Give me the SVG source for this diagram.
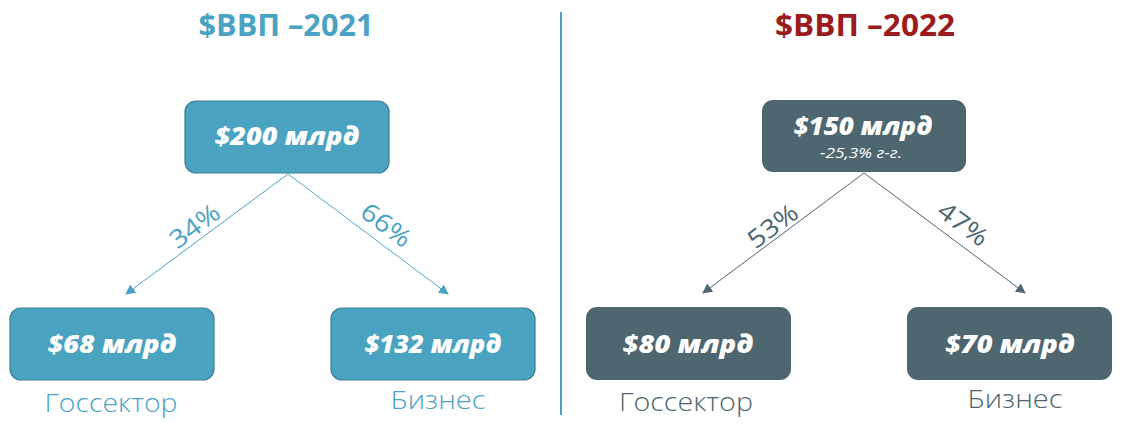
<svg xmlns="http://www.w3.org/2000/svg" width="1122" height="441" viewBox="0 0 1122 441">
<style>
.title{font-family:"Open Sans","Liberation Sans",sans-serif;font-weight:700;font-size:30px;text-anchor:middle}
.val{font-family:"Open Sans","Liberation Sans",sans-serif;font-weight:800;font-style:italic;font-size:24px;fill:#ffffff;text-anchor:middle}
.sub{font-family:"Open Sans","Liberation Sans",sans-serif;font-style:italic;font-weight:400;font-size:15px;fill:#ffffff;text-anchor:middle}
.lbl{font-family:"Open Sans","Liberation Sans",sans-serif;font-weight:300;font-size:25px;text-anchor:middle}
.pct{font-family:"Open Sans","Liberation Sans",sans-serif;font-weight:400;font-size:25px;text-anchor:middle}
.blue{fill:#4BA3C3}
.slate{fill:#4E6670}
.red{fill:#9B1C1F}
.bbox{fill:#4BA3C2;stroke:#3B7F98;stroke-width:1.2}
.sbox{fill:#4E6670}
</style>
<defs>
<marker id="ab" viewBox="0 0 10 10" refX="9" refY="5" markerWidth="10" markerHeight="10" markerUnits="userSpaceOnUse" orient="auto">
<path d="M0,0 L10,5 L0,10 Z" fill="#4BA3C3"/>
</marker>
<marker id="as" viewBox="0 0 10 10" refX="9" refY="5" markerWidth="10" markerHeight="10" markerUnits="userSpaceOnUse" orient="auto">
<path d="M0,0 L10,5 L0,10 Z" fill="#4E6670"/>
</marker>
</defs>
<rect width="1122" height="441" fill="#ffffff"/>
<text class="title blue" x="286" y="36" textLength="175" lengthAdjust="spacingAndGlyphs">$ВВП –2021</text>
<text class="title red" x="865" y="36" textLength="180" lengthAdjust="spacingAndGlyphs">$ВВП –2022</text>
<line x1="561" y1="12" x2="561" y2="415" stroke="#4BA3C3" stroke-width="2"/>
<g id="connectors">
<line x1="288" y1="174" x2="126" y2="294" stroke="#4BA3C3" stroke-width="1" marker-end="url(#ab)"/>
<line x1="288" y1="174" x2="448" y2="294" stroke="#4BA3C3" stroke-width="1" marker-end="url(#ab)"/>
<line x1="864" y1="173" x2="703" y2="293" stroke="#4E6670" stroke-width="1" marker-end="url(#as)"/>
<line x1="864" y1="173" x2="1025" y2="293" stroke="#4E6670" stroke-width="1" marker-end="url(#as)"/>
<text class="pct blue" transform="translate(200,233) rotate(-36.5)" textLength="56" lengthAdjust="spacingAndGlyphs">34%</text>
<text class="pct blue" transform="translate(381,232) rotate(36.5)" textLength="56" lengthAdjust="spacingAndGlyphs">66%</text>
<text class="pct slate" transform="translate(778,233) rotate(-36.5)" textLength="56" lengthAdjust="spacingAndGlyphs">53%</text>
<text class="pct slate" transform="translate(958,231) rotate(36.5)" textLength="56" lengthAdjust="spacingAndGlyphs">47%</text>
</g>
<g id="n2021">
<rect class="bbox" x="185" y="101" width="204" height="72" rx="11"/>
<text class="val" x="287" y="145" textLength="145" lengthAdjust="spacingAndGlyphs">$200 млрд</text>
</g>
<g id="g2021">
<rect class="bbox" x="10" y="308" width="204" height="72" rx="11"/>
<text class="val" x="112" y="353" textLength="129" lengthAdjust="spacingAndGlyphs">$68 млрд</text>
<text class="lbl blue" x="111" y="412" textLength="133" lengthAdjust="spacingAndGlyphs">Госсектор</text>
</g>
<g id="b2021">
<rect class="bbox" x="331" y="308" width="204" height="72" rx="11"/>
<text class="val" x="433" y="353" textLength="137" lengthAdjust="spacingAndGlyphs">$132 млрд</text>
<text class="lbl blue" x="438" y="409" textLength="95" lengthAdjust="spacingAndGlyphs">Бизнес</text>
</g>
<g id="n2022">
<rect class="sbox" x="762" y="100" width="204" height="72" rx="11"/>
<text class="val" x="863" y="135" textLength="139" lengthAdjust="spacingAndGlyphs">$150 млрд</text>
<text class="sub" x="861" y="158" textLength="82" lengthAdjust="spacingAndGlyphs">-25,3% г-г.</text>
</g>
<g id="g2022">
<rect class="sbox" x="586" y="307" width="205" height="73" rx="11"/>
<text class="val" x="688" y="353" textLength="131" lengthAdjust="spacingAndGlyphs">$80 млрд</text>
<text class="lbl slate" x="686" y="411" textLength="134" lengthAdjust="spacingAndGlyphs">Госсектор</text>
</g>
<g id="b2022">
<rect class="sbox" x="907" y="307" width="205" height="73" rx="11"/>
<text class="val" x="1010" y="353" textLength="130" lengthAdjust="spacingAndGlyphs">$70 млрд</text>
<text class="lbl slate" x="1015" y="408" textLength="95" lengthAdjust="spacingAndGlyphs">Бизнес</text>
</g>
</svg>
